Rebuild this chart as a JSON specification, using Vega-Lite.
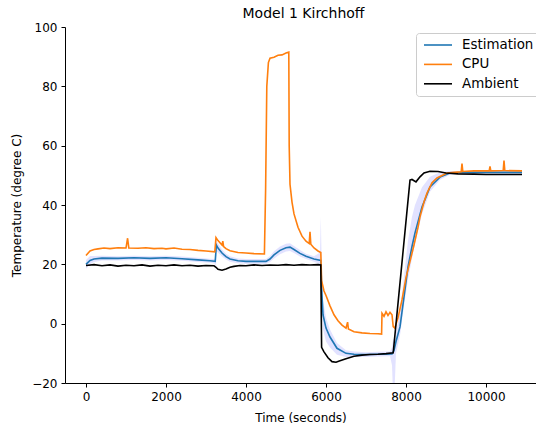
{
  "$schema": "https://vega.github.io/schema/vega-lite/v6.json",
  "width": 471,
  "height": 356,
  "padding": {"left": 65, "top": 27, "right": 0, "bottom": 44},
  "autosize": {"type": "none"},
  "title": {"text": "Model 1 Kirchhoff", "fontSize": 14, "fontWeight": "normal", "font": "DejaVu Sans", "color": "black", "offset": 0, "dx": 3},
  "config": {
    "font": "DejaVu Sans",
    "view": {"stroke": null},
    "axis": {"grid": false, "domainColor": "black", "tickColor": "black", "labelColor": "black", "titleColor": "black", "labelFontSize": 12, "titleFontSize": 12, "titleFontWeight": "normal", "tickSize": 4, "labelPadding": 4, "labelFont": "DejaVu Sans", "titleFont": "DejaVu Sans"}
  },
  "datasets": {
    "band": [
      {"t":0,"lo":18.5,"hi":21.5},{"t":100,"lo":20.0,"hi":22.8},{"t":200,"lo":20.8,"hi":22.8},{"t":400,"lo":21.3,"hi":22.9},{"t":800,"lo":21.3,"hi":22.7},{"t":1200,"lo":21.5,"hi":22.9},{"t":1600,"lo":21.3,"hi":22.7},{"t":2000,"lo":21.5,"hi":22.9},{"t":2400,"lo":21.2,"hi":22.6},{"t":2800,"lo":20.8,"hi":22.2},{"t":3100,"lo":20.5,"hi":21.9},{"t":3230,"lo":20.2,"hi":21.8},{"t":3250,"lo":17.5,"hi":29.0},{"t":3260,"lo":24.5,"hi":28.0},{"t":3300,"lo":24.0,"hi":27.0},{"t":3400,"lo":22.6,"hi":25.0},{"t":3500,"lo":21.6,"hi":23.6},{"t":3600,"lo":20.9,"hi":22.7},{"t":3800,"lo":20.4,"hi":22.0},{"t":4000,"lo":20.2,"hi":21.8},{"t":4500,"lo":20.2,"hi":21.8},{"t":4600,"lo":20.8,"hi":22.8},{"t":4700,"lo":22.0,"hi":24.4},{"t":4850,"lo":23.4,"hi":26.0},{"t":5000,"lo":24.3,"hi":26.9},{"t":5100,"lo":24.5,"hi":27.1},{"t":5200,"lo":23.8,"hi":26.2},{"t":5350,"lo":22.6,"hi":24.8},{"t":5500,"lo":21.8,"hi":23.6},{"t":5700,"lo":20.9,"hi":22.7},{"t":5850,"lo":20.0,"hi":24.0},{"t":5870,"lo":18,"hi":36},{"t":5890,"lo":8,"hi":22},{"t":5925,"lo":-2,"hi":8},{"t":6000,"lo":-6,"hi":2},{"t":6100,"lo":-8,"hi":-2},{"t":6275,"lo":-10.5,"hi":-6.5},{"t":6500,"lo":-11.2,"hi":-9.0},{"t":6700,"lo":-11.2,"hi":-9.4},{"t":7000,"lo":-11.2,"hi":-9.6},{"t":7300,"lo":-11.1,"hi":-9.5},{"t":7600,"lo":-11,"hi":-9.4},{"t":7650,"lo":-14,"hi":-8},{"t":7680,"lo":-25,"hi":-5},{"t":7720,"lo":-20,"hi":-6},{"t":7750,"lo":-10,"hi":-3},{"t":7850,"lo":-4,"hi":4},{"t":7950,"lo":6,"hi":16},{"t":8050,"lo":15,"hi":28},{"t":8150,"lo":22,"hi":36},{"t":8225,"lo":27,"hi":40},{"t":8400,"lo":37,"hi":46},{"t":8600,"lo":44.5,"hi":49.5},{"t":8850,"lo":48.5,"hi":51},{"t":9100,"lo":50.2,"hi":51.5},{"t":9500,"lo":50.5,"hi":51.5},{"t":10000,"lo":50.5,"hi":51.5},{"t":10900,"lo":50.5,"hi":51.5}
    ],
    "lines": [
      {"s":"Estimation","t":0,"v":20.0},{"s":"Estimation","t":100,"v":21.3},{"s":"Estimation","t":200,"v":21.8},{"s":"Estimation","t":400,"v":22.1},{"s":"Estimation","t":800,"v":22.0},{"s":"Estimation","t":1200,"v":22.2},{"s":"Estimation","t":1600,"v":22.0},{"s":"Estimation","t":2000,"v":22.2},{"s":"Estimation","t":2400,"v":21.9},{"s":"Estimation","t":2800,"v":21.5},{"s":"Estimation","t":3100,"v":21.2},{"s":"Estimation","t":3230,"v":21.0},{"s":"Estimation","t":3260,"v":26.5},{"s":"Estimation","t":3300,"v":25.5},{"s":"Estimation","t":3400,"v":23.8},{"s":"Estimation","t":3500,"v":22.6},{"s":"Estimation","t":3600,"v":21.8},{"s":"Estimation","t":3800,"v":21.2},{"s":"Estimation","t":4000,"v":21.0},{"s":"Estimation","t":4500,"v":21.0},{"s":"Estimation","t":4600,"v":21.8},{"s":"Estimation","t":4700,"v":23.2},{"s":"Estimation","t":4850,"v":24.7},{"s":"Estimation","t":5000,"v":25.6},{"s":"Estimation","t":5100,"v":25.8},{"s":"Estimation","t":5200,"v":25.0},{"s":"Estimation","t":5350,"v":23.7},{"s":"Estimation","t":5500,"v":22.7},{"s":"Estimation","t":5700,"v":21.8},{"s":"Estimation","t":5870,"v":21.3},{"s":"Estimation","t":5890,"v":12},{"s":"Estimation","t":5925,"v":3},{"s":"Estimation","t":6000,"v":-1.5},{"s":"Estimation","t":6100,"v":-4.5},{"s":"Estimation","t":6275,"v":-8.3},{"s":"Estimation","t":6500,"v":-10.0},{"s":"Estimation","t":6700,"v":-10.3},{"s":"Estimation","t":7000,"v":-10.4},{"s":"Estimation","t":7300,"v":-10.3},{"s":"Estimation","t":7650,"v":-10.2},{"s":"Estimation","t":7700,"v":-9},{"s":"Estimation","t":7750,"v":-6},{"s":"Estimation","t":7850,"v":-1.1},{"s":"Estimation","t":7950,"v":9},{"s":"Estimation","t":8050,"v":19.1},{"s":"Estimation","t":8150,"v":26},{"s":"Estimation","t":8225,"v":30.6},{"s":"Estimation","t":8400,"v":39.3},{"s":"Estimation","t":8600,"v":46.1},{"s":"Estimation","t":8850,"v":49.4},{"s":"Estimation","t":9100,"v":50.8},{"s":"Estimation","t":9500,"v":51.0},{"s":"Estimation","t":10000,"v":51.0},{"s":"Estimation","t":10900,"v":51.0},
      {"s":"CPU","t":0,"v":23.0},{"s":"CPU","t":100,"v":24.5},{"s":"CPU","t":200,"v":25.0},{"s":"CPU","t":300,"v":25.2},{"s":"CPU","t":450,"v":25.5},{"s":"CPU","t":600,"v":25.3},{"s":"CPU","t":800,"v":25.6},{"s":"CPU","t":1000,"v":25.5},{"s":"CPU","t":1040,"v":28.8},{"s":"CPU","t":1070,"v":25.5},{"s":"CPU","t":1300,"v":25.4},{"s":"CPU","t":1500,"v":25.6},{"s":"CPU","t":1700,"v":25.3},{"s":"CPU","t":1900,"v":25.4},{"s":"CPU","t":2000,"v":25.2},{"s":"CPU","t":2200,"v":25.5},{"s":"CPU","t":2400,"v":25.1},{"s":"CPU","t":2600,"v":25.0},{"s":"CPU","t":2800,"v":24.7},{"s":"CPU","t":3000,"v":24.5},{"s":"CPU","t":3220,"v":24.2},{"s":"CPU","t":3250,"v":29.0},{"s":"CPU","t":3300,"v":28.0},{"s":"CPU","t":3400,"v":26.5},{"s":"CPU","t":3420,"v":27.8},{"s":"CPU","t":3440,"v":26.0},{"s":"CPU","t":3500,"v":25.3},{"s":"CPU","t":3600,"v":24.6},{"s":"CPU","t":3800,"v":24.0},{"s":"CPU","t":4000,"v":23.8},{"s":"CPU","t":4200,"v":23.6},{"s":"CPU","t":4460,"v":23.5},{"s":"CPU","t":4490,"v":45},{"s":"CPU","t":4520,"v":80},{"s":"CPU","t":4560,"v":88},{"s":"CPU","t":4600,"v":89.5},{"s":"CPU","t":4700,"v":89.8},{"s":"CPU","t":4800,"v":90.5},{"s":"CPU","t":4900,"v":90.6},{"s":"CPU","t":5000,"v":91.2},{"s":"CPU","t":5070,"v":91.5},{"s":"CPU","t":5080,"v":60},{"s":"CPU","t":5100,"v":47},{"s":"CPU","t":5150,"v":41},{"s":"CPU","t":5200,"v":37},{"s":"CPU","t":5300,"v":32.5},{"s":"CPU","t":5400,"v":29.5},{"s":"CPU","t":5500,"v":27.8},{"s":"CPU","t":5580,"v":27.0},{"s":"CPU","t":5600,"v":31.0},{"s":"CPU","t":5620,"v":26.8},{"s":"CPU","t":5700,"v":25.5},{"s":"CPU","t":5800,"v":24.5},{"s":"CPU","t":5870,"v":24.0},{"s":"CPU","t":5890,"v":14.5},{"s":"CPU","t":5950,"v":11},{"s":"CPU","t":6000,"v":9.5},{"s":"CPU","t":6100,"v":6},{"s":"CPU","t":6200,"v":3},{"s":"CPU","t":6300,"v":1},{"s":"CPU","t":6400,"v":-0.5},{"s":"CPU","t":6500,"v":-1.5},{"s":"CPU","t":6540,"v":0.5},{"s":"CPU","t":6560,"v":-1.8},{"s":"CPU","t":6700,"v":-2.7},{"s":"CPU","t":6900,"v":-3.1},{"s":"CPU","t":7100,"v":-3.3},{"s":"CPU","t":7300,"v":-3.4},{"s":"CPU","t":7390,"v":-3.5},{"s":"CPU","t":7400,"v":3.5},{"s":"CPU","t":7450,"v":2.5},{"s":"CPU","t":7500,"v":4.0},{"s":"CPU","t":7550,"v":2.8},{"s":"CPU","t":7600,"v":3.8},{"s":"CPU","t":7650,"v":3.0},{"s":"CPU","t":7680,"v":-1.0},{"s":"CPU","t":7720,"v":-1.5},{"s":"CPU","t":7800,"v":2},{"s":"CPU","t":7900,"v":8},{"s":"CPU","t":8000,"v":15.5},{"s":"CPU","t":8100,"v":21},{"s":"CPU","t":8200,"v":26.5},{"s":"CPU","t":8300,"v":32.5},{"s":"CPU","t":8350,"v":36},{"s":"CPU","t":8450,"v":41},{"s":"CPU","t":8525,"v":44},{"s":"CPU","t":8650,"v":47.5},{"s":"CPU","t":8775,"v":49.1},{"s":"CPU","t":9025,"v":50.8},{"s":"CPU","t":9200,"v":51.0},{"s":"CPU","t":9380,"v":51.2},{"s":"CPU","t":9400,"v":54},{"s":"CPU","t":9420,"v":51.3},{"s":"CPU","t":9700,"v":51.5},{"s":"CPU","t":10080,"v":51.5},{"s":"CPU","t":10100,"v":53},{"s":"CPU","t":10120,"v":51.5},{"s":"CPU","t":10430,"v":51.6},{"s":"CPU","t":10450,"v":55},{"s":"CPU","t":10470,"v":51.6},{"s":"CPU","t":10900,"v":51.5},
      {"s":"Ambient","t":0,"v":19.6},{"s":"Ambient","t":200,"v":19.9},{"s":"Ambient","t":400,"v":19.5},{"s":"Ambient","t":600,"v":19.8},{"s":"Ambient","t":800,"v":19.4},{"s":"Ambient","t":1000,"v":19.7},{"s":"Ambient","t":1200,"v":19.5},{"s":"Ambient","t":1400,"v":19.8},{"s":"Ambient","t":1600,"v":19.4},{"s":"Ambient","t":1800,"v":19.7},{"s":"Ambient","t":2000,"v":19.5},{"s":"Ambient","t":2200,"v":19.8},{"s":"Ambient","t":2400,"v":19.5},{"s":"Ambient","t":2600,"v":19.7},{"s":"Ambient","t":2800,"v":19.4},{"s":"Ambient","t":3000,"v":19.6},{"s":"Ambient","t":3200,"v":19.5},{"s":"Ambient","t":3250,"v":19.0},{"s":"Ambient","t":3300,"v":18.3},{"s":"Ambient","t":3400,"v":18.0},{"s":"Ambient","t":3500,"v":18.4},{"s":"Ambient","t":3600,"v":19.0},{"s":"Ambient","t":3700,"v":19.3},{"s":"Ambient","t":3850,"v":19.6},{"s":"Ambient","t":4000,"v":19.5},{"s":"Ambient","t":4200,"v":19.8},{"s":"Ambient","t":4400,"v":19.6},{"s":"Ambient","t":4600,"v":19.8},{"s":"Ambient","t":4800,"v":19.7},{"s":"Ambient","t":5000,"v":19.9},{"s":"Ambient","t":5200,"v":19.7},{"s":"Ambient","t":5400,"v":19.9},{"s":"Ambient","t":5600,"v":19.8},{"s":"Ambient","t":5800,"v":19.9},{"s":"Ambient","t":5870,"v":19.8},{"s":"Ambient","t":5890,"v":-8},{"s":"Ambient","t":5950,"v":-9.5},{"s":"Ambient","t":6050,"v":-11.5},{"s":"Ambient","t":6150,"v":-12.8},{"s":"Ambient","t":6250,"v":-13.0},{"s":"Ambient","t":6350,"v":-12.5},{"s":"Ambient","t":6500,"v":-11.8},{"s":"Ambient","t":6700,"v":-11.0},{"s":"Ambient","t":6900,"v":-10.6},{"s":"Ambient","t":7100,"v":-10.4},{"s":"Ambient","t":7300,"v":-10.3},{"s":"Ambient","t":7500,"v":-10.1},{"s":"Ambient","t":7680,"v":-9.8},{"s":"Ambient","t":8100,"v":48.4},{"s":"Ambient","t":8150,"v":48.6},{"s":"Ambient","t":8250,"v":47.8},{"s":"Ambient","t":8350,"v":49.5},{"s":"Ambient","t":8450,"v":50.8},{"s":"Ambient","t":8600,"v":51.4},{"s":"Ambient","t":8800,"v":51.3},{"s":"Ambient","t":9000,"v":50.8},{"s":"Ambient","t":9300,"v":50.5},{"s":"Ambient","t":9700,"v":50.4},{"s":"Ambient","t":10000,"v":50.3},{"s":"Ambient","t":10500,"v":50.3},{"s":"Ambient","t":10900,"v":50.3}
    ]
  },
  "layer": [
    {
      "data": {"name": "band"},
      "mark": {"type": "area", "color": "#7070ff", "opacity": 0.2, "clip": true},
      "encoding": {
        "x": {"field": "t", "type": "quantitative", "scale": {"domain": [-525, 11250], "nice": false, "zero": false},
              "axis": {"values": [0, 2000, 4000, 6000, 8000, 10000], "format": "d", "title": "Time (seconds)", "titlePadding": 10}},
        "y": {"field": "lo", "type": "quantitative", "scale": {"domain": [-20, 100], "nice": false, "zero": false},
              "axis": {"values": [-20, 0, 20, 40, 60, 80, 100], "format": "d", "title": "Temperature (degree C)", "titlePadding": 8}},
        "y2": {"field": "hi"}
      }
    },
    {
      "data": {"name": "lines"},
      "mark": {"type": "line", "clip": true},
      "encoding": {
        "x": {"field": "t", "type": "quantitative"},
        "y": {"field": "v", "type": "quantitative"},
        "order": {"field": "t", "type": "quantitative"},
        "color": {"field": "s", "type": "nominal",
          "scale": {"domain": ["Estimation", "CPU", "Ambient"], "range": ["#1f77b4", "#ff7f0e", "#000000"]},
          "legend": {"title": null, "orient": "none", "legendX": 351, "legendY": 6, "symbolType": "M-0.67,0H4", "symbolSize": 144, "symbolStrokeWidth": 2, "labelFontSize": 13.4, "labelFont": "DejaVu Sans", "labelColor": "black", "rowPadding": 5.4, "labelOffset": 27, "padding": 5, "strokeColor": "#cccccc", "cornerRadius": 3, "fillColor": "rgba(255,255,255,0.8)"}},
        "strokeWidth": {"field": "s", "type": "nominal", "scale": {"domain": ["Estimation", "CPU", "Ambient"], "range": [1.6, 1.6, 2]}, "legend": null}
      }
    },
    {
      "mark": {"type": "rule", "color": "black", "strokeWidth": 1},
      "encoding": {"y": {"datum": 100}}
    }
  ]
}
